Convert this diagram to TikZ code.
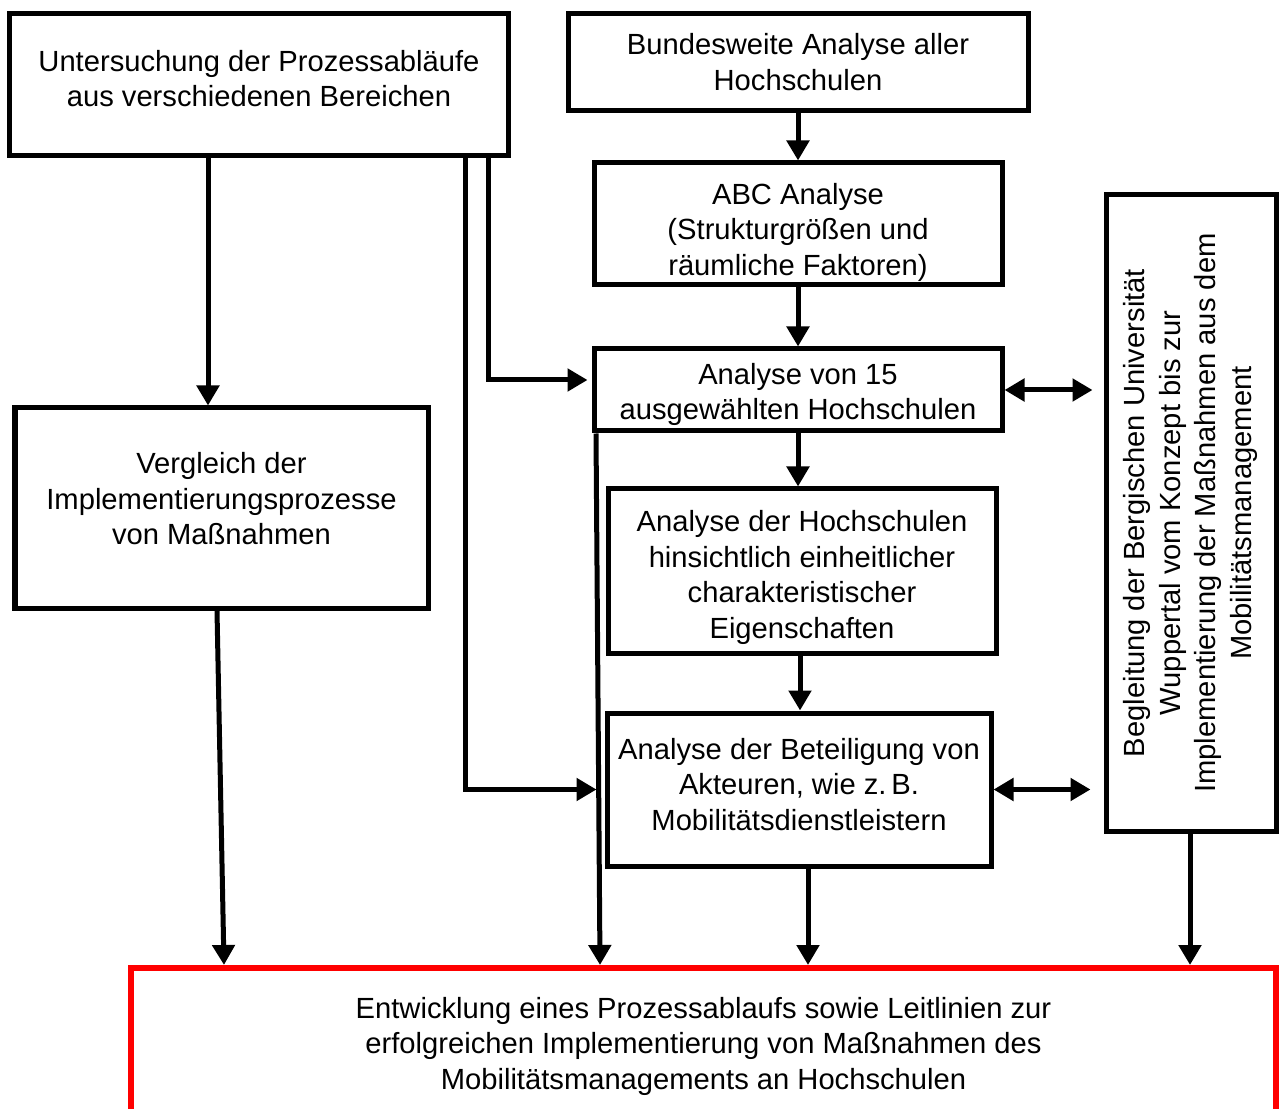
\documentclass[tikz,border=0pt]{standalone}
\usepackage{fontspec}
\setmainfont{Liberation Sans}
\usepackage{tikz}
\usetikzlibrary{positioning,calc,arrows.meta}

% lines of a box, moved up (or down) without changing the box
\newcommand\liftlines[2]{\raisebox{#1}[\height][\depth]{\begin{tabular}{@{}c@{}}#2\end{tabular}}}

\tikzset{
    box/.style={rectangle, draw, line width=0.1cm, align=center, inner sep=0pt,
        font=\fontsize{16.6}{20.2}\selectfont},
    goal/.style={box, draw=red, line width=0.12cm},
    arr/.style={line width=0.1cm, -{Triangle[length=0.4cm,width=0.44cm]}},
    dbl/.style={line width=0.1cm, {Triangle[length=0.4cm,width=0.44cm]}-{Triangle[length=0.4cm,width=0.44cm]}}
}

\begin{document}
\begin{tikzpicture}
    \useasboundingbox (0,0) rectangle (25.66,-22.18);

    % left column
    \node [box, minimum width=9.96cm, minimum height=2.84cm] (unters) at (5.18,-1.70)
        {\liftlines{0.06cm}{Untersuchung der Prozessabläufe\\aus verschiedenen Bereichen}};
    \node [box, minimum width=8.26cm, minimum height=4.00cm] (vergl) at (4.43,-10.16)
        {\liftlines{0.12cm}{Vergleich der\\Implementierungsprozesse\\von Maßnahmen}};

    % middle column
    \node [box, minimum width=9.20cm, minimum height=1.94cm] (bund) at (15.96,-1.25)
        {\liftlines{-0.06cm}{Bundesweite Analyse aller\\Hochschulen}};
    \node [box, minimum width=8.16cm, minimum height=2.44cm] (abc) at (15.96,-4.48)
        {\liftlines{-0.17cm}{ABC Analyse\\(Strukturgrößen und\\räumliche Faktoren)}};
    \node [box, minimum width=8.16cm, minimum height=1.64cm] (ana15) at (15.96,-7.80)
        {\liftlines{-0.1cm}{Analyse von 15\\ausgewählten Hochschulen}};
    \node [box, minimum width=7.76cm, minimum height=3.28cm] (eigen) at (16.04,-11.42)
        {\liftlines{-0.14cm}{Analyse der Hochschulen\\hinsichtlich einheitlicher\\charakteristischer\\Eigenschaften}};
    \node [box, minimum width=7.68cm, minimum height=3.06cm] (betei) at (15.98,-15.79)
        {\liftlines{0.04cm}{Analyse der Beteiligung von\\Akteuren, wie z.\,B.\\Mobilitätsdienstleistern}};

    % right column
    \node [box, minimum width=3.40cm, minimum height=12.72cm] (begl) at (23.82,-10.26)
        {\rotatebox{90}{\begin{tabular}{@{}c@{}}Begleitung der Bergischen Universität\\
        Wuppertal vom Konzept bis zur\\Implementierung der Maßnahmen aus dem\\
        Mobilitätsmanagement\end{tabular}}};

    % result
    \node [goal, minimum width=22.90cm, minimum height=3.12cm] (entw) at (14.07,-20.92)
        {Entwicklung eines Prozessablaufs sowie Leitlinien zur\\
        erfolgreichen Implementierung von Maßnahmen des\\
        Mobilitätsmanagements an Hochschulen};

    % connectors
    \draw [arr] (4.16,0 |- unters.south) -- (4.16,0 |- vergl.north);
    \draw [arr] (4.34,0 |- vergl.south) -- (4.48,0 |- entw.north);
    \draw [arr, shorten >=0.16cm] (9.30,0 |- unters.south) |- (betei.west);
    \draw [arr, shorten >=0.08cm] (9.76,0 |- unters.south) |- ([yshift=0.2cm]ana15.west);
    \draw [arr] (11.92,0 |- ana15.south) -- (12.00,0 |- entw.north);

    \draw [arr] (bund.south) -- (abc.north);
    \draw [arr] (abc.south) -- (ana15.north);
    \draw [arr] (ana15.south) -- (ana15.south |- eigen.north);
    \draw [arr] (16.00,0 |- eigen.south) -- (16.00,0 |- betei.north);
    \draw [arr] (16.16,0 |- betei.south) -- (16.16,0 |- entw.north);
    \draw [arr] (23.80,0 |- begl.south) -- (23.80,0 |- entw.north);

    \draw [dbl, shorten >=0.22cm] (ana15.east) -- (ana15.east -| begl.west);
    \draw [dbl, shorten >=0.26cm] (betei.east) -- (betei.east -| begl.west);
\end{tikzpicture}
\end{document}
